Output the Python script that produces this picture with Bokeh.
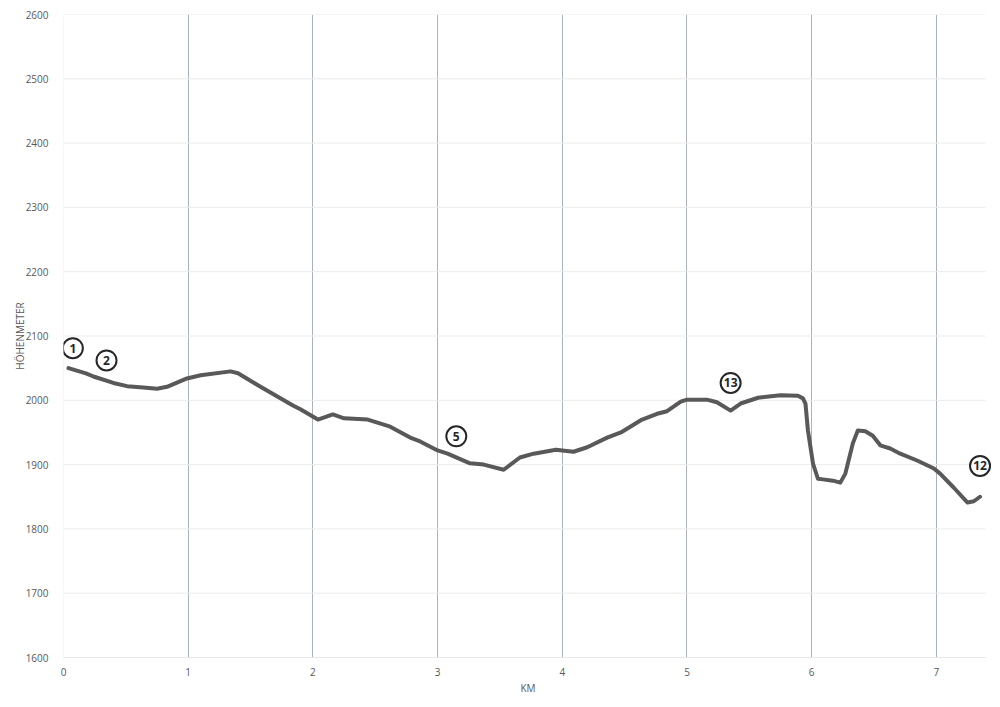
from bokeh.plotting import figure
from bokeh.models import Range1d, FixedTicker, ColumnDataSource
from bokeh.core.properties import value
from bokeh.embed import file_html
from bokeh.resources import INLINE

# Elevation profile (km, metres)
km = [0.04, 0.18, 0.24, 0.40, 0.51, 0.64, 0.75, 0.83, 0.99, 1.10, 1.34, 1.40,
      1.58, 1.84, 1.90, 2.04, 2.16, 2.25, 2.44, 2.62, 2.78, 2.86, 3.00, 3.08,
      3.26, 3.37, 3.53, 3.66, 3.77, 3.95, 4.00, 4.09, 4.20, 4.36, 4.47, 4.63,
      4.76, 4.84, 4.95, 5.00, 5.16, 5.24, 5.35, 5.43, 5.57, 5.75, 5.89, 5.93,
      5.95, 5.97, 6.01, 6.05, 6.09, 6.17, 6.23, 6.27, 6.33, 6.37, 6.43, 6.49,
      6.55, 6.63, 6.71, 6.85, 6.98, 7.03, 7.14, 7.25, 7.30, 7.35]
elev = [2050, 2042, 2037, 2027, 2022, 2020, 2018, 2021, 2034, 2039, 2045, 2042,
        2021, 1992, 1986, 1970, 1978, 1972, 1970, 1959, 1942, 1936, 1922, 1917,
        1902, 1900, 1892, 1911, 1917, 1923, 1922, 1920, 1927, 1942, 1950, 1969,
        1979, 1983, 1998, 2001, 2001, 1997, 1984, 1995, 2004, 2008, 2007, 2003,
        1995, 1953, 1902, 1878, 1877, 1875, 1872, 1886, 1933, 1953, 1952, 1945,
        1930, 1925, 1917, 1906, 1894, 1886, 1864, 1841, 1843, 1850]

# Waypoint markers (circled numbers)
marker_text = ["1", "2", "5", "13", "12"]
marker_km = [0.075, 0.345, 3.15, 5.35, 7.35]
marker_elev = [2081, 2062, 1944, 2027, 1898]

x_ticks = [0, 1, 2, 3, 4, 5, 6, 7]
y_ticks = [1600, 1700, 1800, 1900, 2000, 2100, 2200, 2300, 2400, 2500, 2600]
km_lines = [1, 2, 3, 4, 5, 6, 7]
x_end = 7.394

FONT = "Open Sans"
LABEL_COLOR = "#595959"

p = figure(
    output_backend="svg", toolbar_location=None,
    frame_width=929, frame_height=643,
    min_border_left=63, min_border_right=0,
    min_border_top=14, min_border_bottom=36,
    x_range=Range1d(0, 7.45), y_range=Range1d(1600, 2600),
)
p.outline_line_color = None
p.background_fill_color = "white"
p.border_fill_color = "white"

# axes
p.xaxis.ticker = FixedTicker(ticks=x_ticks)
p.yaxis.ticker = FixedTicker(ticks=y_ticks)
for ax in (p.xaxis[0], p.yaxis[0]):
    ax.major_tick_line_color = None
    ax.minor_tick_line_color = None
    ax.major_label_text_font = FONT
    ax.major_label_text_font_size = "10px"
    ax.major_label_text_color = LABEL_COLOR
    ax.axis_label_text_font = FONT
    ax.axis_label_text_font_size = "10px"
    ax.axis_label_text_font_style = "normal"
    ax.axis_label_text_color = LABEL_COLOR
p.xaxis.axis_line_color = None
p.yaxis.axis_line_color = None
p.xaxis.axis_label = "KM"
p.yaxis.axis_label = "HÖHENMETER"
p.xaxis.major_label_standoff = 4
p.yaxis.major_label_standoff = 9
p.xaxis.axis_label_standoff = 2
p.yaxis.axis_label_standoff = -4

# grids (horizontal lines end at the chart's right edge)
p.ygrid.grid_line_color = None
p.segment(x0=[0] * len(y_ticks), y0=y_ticks, x1=[x_end] * len(y_ticks), y1=y_ticks,
          line_color="#ececec", line_width=1)
p.segment(x0=[0], y0=[1600], x1=[x_end], y1=[1600], line_color="#dcdcdc", line_width=1)
p.segment(x0=[0], y0=[1600], x1=[0], y1=[2600], line_color="#eeeeee", line_width=1)
p.xgrid.ticker = FixedTicker(ticks=km_lines)
p.xgrid.grid_line_color = "#aab2ba"
p.xgrid.grid_line_width = 1

# profile
src = ColumnDataSource(dict(km=km, elev=elev))
p.line("km", "elev", source=src, line_color="#595959", line_width=4,
       line_join="round", line_cap="round")

# markers
msrc = ColumnDataSource(dict(x=marker_km, y=marker_elev, t=marker_text))
p.scatter("x", "y", source=msrc, marker="circle", size=20, fill_color="white",
          line_color="#262626", line_width=2)
p.text("x", "y", text="t", source=msrc, text_font=value(FONT),
       text_font_size="12px", text_font_style="bold", text_color="#262626",
       text_align="center", text_baseline="middle")

open("out.html", "w").write(file_html(p, INLINE))
